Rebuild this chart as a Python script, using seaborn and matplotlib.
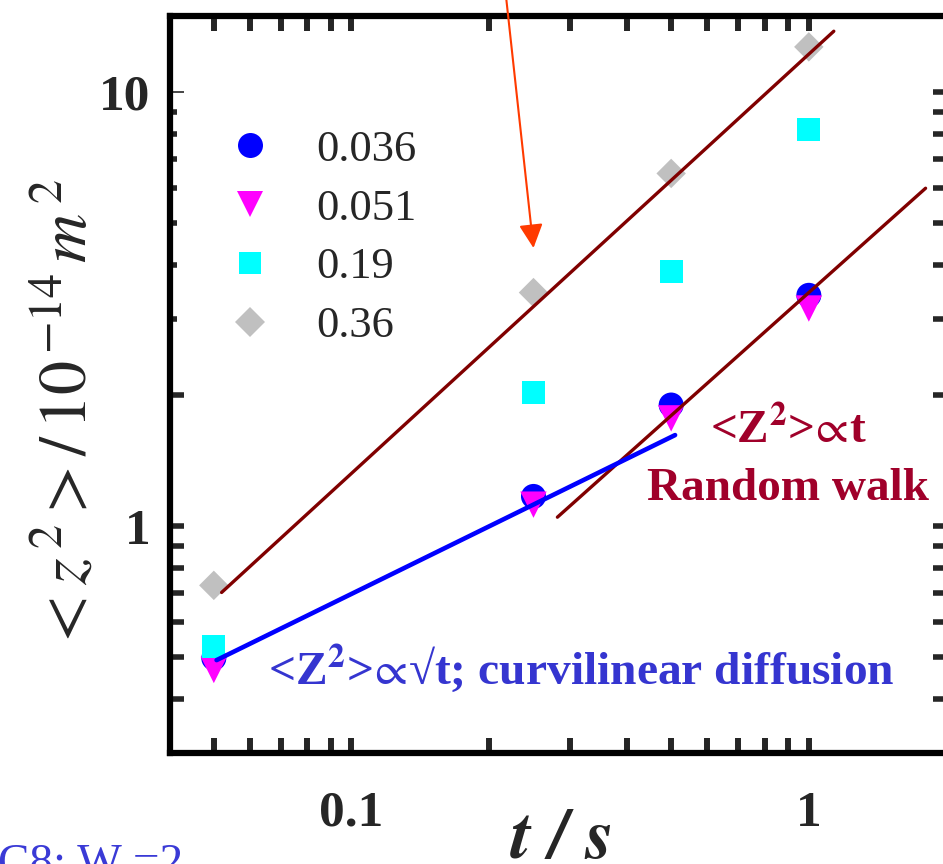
import numpy as np
import pandas as pd
import matplotlib
matplotlib.use("Agg")
import matplotlib.pyplot as plt
from matplotlib.lines import Line2D
from matplotlib.ticker import FixedLocator, NullFormatter
import seaborn as sns

# ---- data -------------------------------------------------------------
t_s = [0.05, 0.25, 0.5, 1.0]                      # time, s
series_labels = ["0.036", "0.051", "0.19", "0.36"]
z2_036 = [0.496, 1.17, 1.90, 3.40]                # <z^2> / 1e-14 m^2
z2_051 = [0.466, 1.12, 1.77, 3.17]
z2_019 = [0.529, 2.03, 3.86, 8.19]
z2_036b = [0.730, 3.45, 6.49, 12.7]

# guide lines (end points of the power-law fits)
rw_upper_t = [0.052, 1.134]
rw_upper_z = [0.703, 13.8]
rw_lower_t = [0.282, 1.80]
rw_lower_z = [1.048, 6.0]
sqrt_t = [0.0507, 0.51]
sqrt_z = [0.491, 1.62]

# axis ticks
x_major = [0.1, 1.0]
x_major_labels = ["0.1", "1"]
x_minor = [0.05, 0.06, 0.07, 0.08, 0.09, 0.2, 0.3, 0.4, 0.5, 0.6, 0.7, 0.8, 0.9]
y_major = [1.0, 10.0]
y_major_labels = ["1", "10"]
y_minor = [0.4, 0.5, 0.6, 0.7, 0.8, 0.9, 2, 3, 4, 5, 6, 7, 8, 9]

# ---- style ------------------------------------------------------------
sns.set_style("ticks")
plt.rcParams["font.family"] = ["Liberation Serif", "DejaVu Serif"]
plt.rcParams["mathtext.fontset"] = "stix"

W, H = 943, 864
fig = plt.figure(figsize=(W / 100, H / 100), dpi=100)
ax = fig.add_axes([169.5 / W, 1 - 753 / H, 777 / W, 737.5 / H])

styles = [
    (z2_036, "o", "#0000ff", 18),
    (z2_051, "v", "#ff00ff", 19),
    (z2_019, "s", "#00ffff", 16.5),
    (z2_036b, "D", "#c0c0c0", 15),
]

for vals, mk, col, ms in styles:
    sns.scatterplot(x=t_s, y=vals, marker=mk, s=ms ** 2, color=col,
                    edgecolor="none", linewidth=0, ax=ax, zorder=2, legend=False)

line_kw = dict(ax=ax, zorder=3, legend=False, sort=False)
sns.lineplot(x=rw_upper_t, y=rw_upper_z, color="#800000", lw=2.4, **line_kw)
sns.lineplot(x=rw_lower_t, y=rw_lower_z, color="#800000", lw=2.4, **line_kw)
sns.lineplot(x=sqrt_t, y=sqrt_z, color="#0000ff", lw=3.3, **line_kw)

ax.set_xscale("log")
ax.set_yscale("log")
ax.set_xlim(0.04, 2.0)
ax.set_ylim(0.3, 15)

# ---- ticks ------------------------------------------------------------
ax.set_xticks(x_major, labels=x_major_labels, fontsize=37, fontweight="bold")
ax.xaxis.set_minor_locator(FixedLocator(x_minor))
ax.xaxis.set_minor_formatter(NullFormatter())
ax.set_yticks(y_major, labels=y_major_labels, fontsize=37, fontweight="bold")
ax.yaxis.set_minor_locator(FixedLocator(y_minor))
ax.yaxis.set_minor_formatter(NullFormatter())

ax.tick_params(axis="x", which="both", direction="in", top=True, bottom=True,
               length=10.5, width=4.3, pad=27)
ax.tick_params(axis="y", which="both", direction="in", left=True, right=True,
               length=10, width=4.0, pad=14)

# shorter marks on the left edge between 3 and 9, thin mark at 10
locs = ax.yaxis.get_minorticklocs()
for loc, tk in zip(locs, ax.yaxis.get_minor_ticks(len(locs))):
    if 3 <= loc <= 9:
        tk.tick1line.set_markersize(4.7)
mlocs = ax.yaxis.get_majorticklocs()
for loc, tk in zip(mlocs, ax.yaxis.get_major_ticks(len(mlocs))):
    if loc == 10:
        tk.tick1line.set_markeredgewidth(1.2)

for sp in ax.spines.values():
    sp.set_linewidth(4.5)
    sp.set_color("black")

# ---- labels -----------------------------------------------------------
ax.set_xlabel(r"$\mathbfit{t}\ \mathbfit{/}\ \mathbfit{s}$", fontsize=52,
              va="baseline")
ax.xaxis.set_label_coords(0.504, -0.142)
ax.set_ylabel(r"$<z^{\,2}>\mathit{/}\,\mathit{10}^{\,\mathit{-14}}\,m^{\,2}$",
              fontsize=49)
ax.yaxis.set_label_coords(-0.089, 0.458)

# ---- legend -----------------------------------------------------------
handles = [Line2D([], [], ls="none", marker=mk, color=col, markeredgewidth=0,
                  markersize=ms) for _, mk, col, ms in styles]
ax.legend(handles, series_labels, loc="upper left",
          bbox_to_anchor=(0.0746, 0.845), frameon=False, fontsize=32,
          handlelength=1.0, handletextpad=1.0, labelspacing=0.42,
          borderpad=0, borderaxespad=0)

# ---- annotations ------------------------------------------------------
red = "#a0002a"
ax.text(0.796, 0.420, r"<Z$^{\mathbf{2}}$>$\!\propto\!$t", transform=ax.transAxes,
        ha="center", va="baseline", fontsize=34, fontweight="bold", color=red)
ax.text(0.796, 0.343, "Random walk", transform=ax.transAxes, ha="center",
        va="baseline", fontsize=34, fontweight="bold", color=red)
ax.text(0.127, 0.0936, r"<Z$^{\mathbf{2}}$>$\!\propto\!$√t; curvilinear diffusion",
        transform=ax.transAxes, ha="left", va="baseline", fontsize=34.2,
        fontweight="bold", color="#3535d0")

ax.annotate("", xy=(0.25, 4.37), xytext=(0.216, 17.9),
            arrowprops=dict(arrowstyle="-|>,head_length=0.5,head_width=0.25",
                            mutation_scale=29, lw=1.5, color="#ff3a00",
                            shrinkA=0, shrinkB=0),
            annotation_clip=False, zorder=6)

fig.text(-0.002, -0.0139, "C8; W =2", ha="left", va="baseline", fontsize=34,
         color="#3a3ad6")

fig.savefig("out.png", dpi=100)
